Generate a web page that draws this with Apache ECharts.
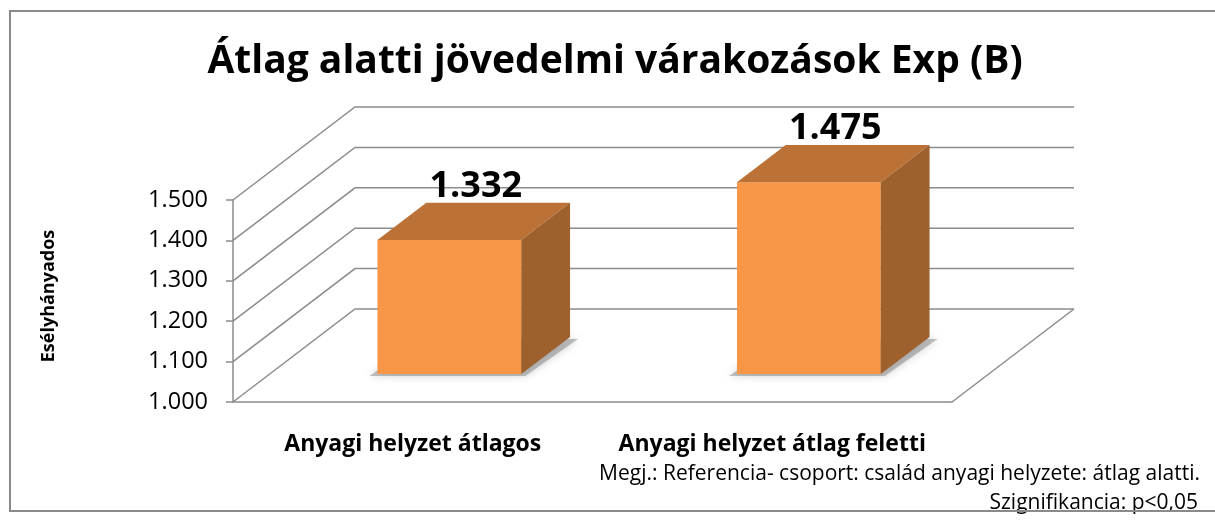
<!DOCTYPE html>
<html>
<head>
<meta charset="utf-8">
<style>html,body{margin:0;padding:0;background:#fff}#main{width:1215px;height:521px}</style>
<script src="https://cdn.jsdelivr.net/npm/echarts@6/dist/echarts.min.js"></script>
</head>
<body>
<div id="main"></div>
<script>
// data
const categories = ['Anyagi helyzet átlagos', 'Anyagi helyzet átlag feletti'];
const values = [1.332, 1.475];
const valueLabels = ['1.332', '1.475'];
const yTicks = [1.0, 1.1, 1.2, 1.3, 1.4, 1.5];

const chart = echarts.init(document.getElementById('main'));
const FONT = '"Open Sans", Lato, sans-serif';
const depth = [122, -93];          // wall depth (px)
const barFront = 0.3, barDepth = 0.4, barWidth = 0.4;
const gridColor = '#8c8c8c';

function renderWalls(params, api) {
  const cs = params.coordSys;
  const y = api.coord([0, api.value(1)])[1];
  const x0 = cs.x, x1 = cs.x + cs.width;
  const children = [{
    type: 'polyline',
    shape: { points: [[x0, y], [x0 + depth[0], y + depth[1]], [x1 + depth[0], y + depth[1]]] },
    style: { stroke: gridColor, lineWidth: 1.5, fill: null }
  }];
  if (params.dataIndex === 0) {
    children.push({
      type: 'line',
      shape: { x1: x1, y1: y, x2: x1 + depth[0], y2: y + depth[1] },
      style: { stroke: gridColor, lineWidth: 1.5 }
    });
  }
  return { type: 'group', children: children };
}

function renderBar(params, api) {
  const i = api.value(0), v = api.value(1);
  const base = api.coord([i, yTicks[0]]);
  const top = api.coord([i, v]);
  const w = api.size([1, 0])[0] * barWidth;
  const ox = depth[0] * barFront, oy = depth[1] * barFront;
  const dx = depth[0] * barDepth, dy = depth[1] * barDepth;
  const L = base[0] - w / 2 + ox, R = base[0] + w / 2 + ox;
  const B = base[1] + oy, T = top[1] + oy;
  return {
    type: 'group',
    children: [
      {
        type: 'polygon',
        shape: { points: [[L - 8, B + 2], [R + 4, B + 2], [R + dx + 8, B + dy + 2], [L + dx, B + dy]] },
        style: { fill: 'rgba(120,120,120,0.45)', shadowBlur: 8, shadowColor: 'rgba(0,0,0,0.4)' }
      },
      {
        type: 'rect',
        shape: { x: L, y: T, width: w, height: B - T },
        style: { fill: '#F79646' }
      },
      {
        type: 'polygon',
        shape: { points: [[L, T], [R, T], [R + dx, T + dy], [L + dx, T + dy]] },
        style: { fill: '#BC7236' }
      },
      {
        type: 'polygon',
        shape: { points: [[R, T], [R + dx, T + dy], [R + dx, B + dy], [R, B]] },
        style: { fill: '#9E602D' }
      },
      {
        type: 'text',
        style: {
          text: valueLabels[params.dataIndex],
          x: (L + R + dx) / 2 + 2, y: T + dy + 2,
          font: 'bold 36px ' + FONT, fill: '#000',
          align: 'center', verticalAlign: 'bottom',
          textAlign: 'center', textVerticalAlign: 'bottom'
        }
      }
    ]
  };
}

const option = {
  backgroundColor: '#fff',
  animation: false,
  grid: { left: 233, right: 263, top: 200, bottom: 119, outerBoundsMode: 'none' },
  xAxis: {
    type: 'category',
    data: categories,
    axisLine: { lineStyle: { color: gridColor, width: 1.5 } },
    axisTick: { length: 7, lineStyle: { color: gridColor, width: 1.5 } },
    axisLabel: { interval: 0, fontFamily: FONT, fontWeight: 'bold', fontSize: 23, color: '#000', margin: 31 },
    splitLine: { show: false }
  },
  yAxis: {
    type: 'value',
    min: 1.0, max: 1.5, interval: 0.1,
    axisLine: { show: true, lineStyle: { color: gridColor, width: 1.5 } },
    axisTick: { show: true, length: 7, lineStyle: { color: gridColor, width: 1.5 } },
    axisLabel: { fontFamily: FONT, fontSize: 23.5, color: '#000', margin: 25,
      formatter: function (v) { return v.toFixed(3); } },
    splitLine: { show: false }
  },
  graphic: [
    {
      type: 'rect', z: 100, silent: true,
      shape: { x: 10, y: 11, width: 1225, height: 500 },
      style: { fill: null, stroke: '#8a8a8a', lineWidth: 2 }
    },
    {
      type: 'text',
      style: { text: 'Átlag alatti jövedelmi várakozások Exp (B)', x: 615, y: 62,
        font: 'bold 39px ' + FONT, fill: '#000', align: 'center', verticalAlign: 'middle',
        textAlign: 'center', textVerticalAlign: 'middle' }
    },
    {
      type: 'text', x: 49, y: 296, rotation: Math.PI / 2,
      style: { text: 'Esélyhányados', x: 0, y: 0,
        font: 'bold 18px ' + FONT, fill: '#000', align: 'center', verticalAlign: 'middle',
        textAlign: 'center', textVerticalAlign: 'middle' }
    },
    {
      type: 'text',
      style: { text: 'Megj.: Referencia- csoport: család anyagi helyzete: átlag alatti.', x: 1200, y: 474,
        font: '21px ' + FONT, fill: '#000', align: 'right', verticalAlign: 'middle',
        textAlign: 'right', textVerticalAlign: 'middle' }
    },
    {
      type: 'text',
      style: { text: 'Szignifikancia: p<0,05', x: 1198, y: 503,
        font: '21px ' + FONT, fill: '#000', align: 'right', verticalAlign: 'middle',
        textAlign: 'right', textVerticalAlign: 'middle' }
    }
  ],
  series: [
    {
      type: 'custom',
      renderItem: renderWalls,
      data: yTicks.map(function (v) { return [0, v]; }),
      encode: { x: 0, y: 1 },
      silent: true,
      z: 1
    },
    {
      type: 'custom',
      renderItem: renderBar,
      data: values.map(function (v, i) { return [i, v]; }),
      encode: { x: 0, y: 1 },
      z: 2
    }
  ]
};

chart.setOption(option);
window.onresize = function () { chart.resize(); };
</script>
</body>
</html>
